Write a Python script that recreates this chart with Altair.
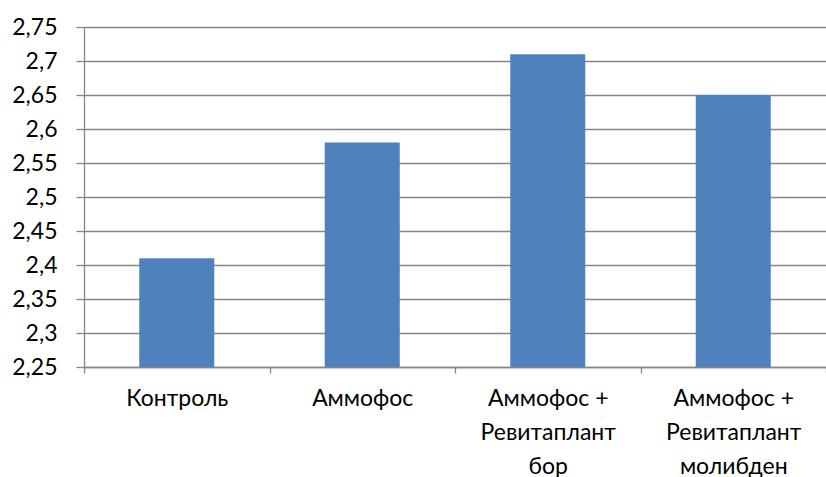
import altair as alt
import pandas as pd

categories = ["Контроль", "Аммофос", "Аммофос +|Ревитаплант|бор", "Аммофос +|Ревитаплант|молибден"]
values = [2.41, 2.58, 2.71, 2.65]
y_ticks = [2.25, 2.3, 2.35, 2.4, 2.45, 2.5, 2.55, 2.6, 2.65, 2.7, 2.75]

df = pd.DataFrame({"cat": categories, "val": values})

FONT = "Lato"
GRAY = "#868686"

chart = alt.Chart(df).mark_bar(color="#4F81BD", size=75, clip=True).encode(
    x=alt.X("cat:N", sort=categories, title=None,
            scale=alt.Scale(paddingInner=0, paddingOuter=0),
            axis=alt.Axis(labelAngle=0, tickBand="extent", ticks=True, tickSize=6,
                          tickColor=GRAY, tickWidth=1.3, domainColor=GRAY, domainWidth=1.3,
                          labelFont=FONT, labelFontSize=23, labelFontWeight="normal",
                          labelColor="#000000",
                          labelPadding=14, labelLineHeight=34,
                          labelExpr="split(datum.label, '|')", grid=False)),
    y=alt.Y("val:Q", title=None,
            scale=alt.Scale(domain=[2.25, 2.75], zero=False, nice=False),
            axis=alt.Axis(values=y_ticks, tickSize=8, tickColor=GRAY, tickWidth=1.3,
                          domainColor=GRAY, domainWidth=1.3,
                          gridColor=GRAY, gridWidth=1.3,
                          labelFont=FONT, labelFontSize=23, labelFontWeight="normal",
                          labelColor="#000000",
                          labelPadding=19,
                          labelExpr="replace(format(datum.value, '.2~f'), '.', ',')")),
).properties(
    width=742, height=340,
    autosize=alt.AutoSizeParams(type="none"),
    padding={"left": 84, "top": 27, "right": 0, "bottom": 110},
).configure_view(stroke=None).configure(background="white")

chart.save("out.html", embed_options={"renderer": "svg", "actions": False})
